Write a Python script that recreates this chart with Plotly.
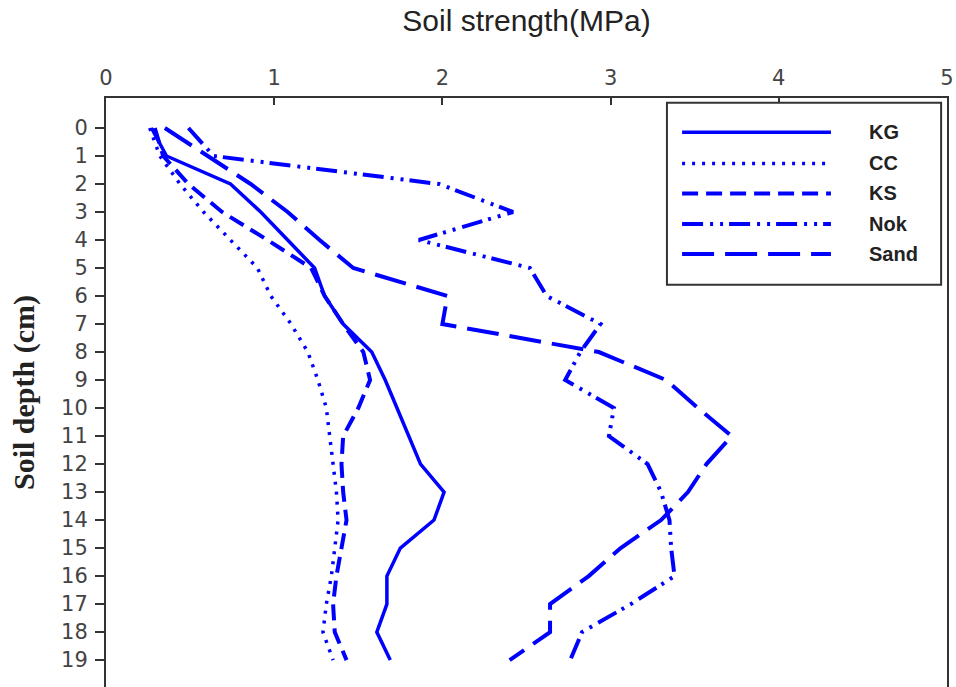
import plotly.graph_objects as go

# Penetrometer soil strength (MPa) by depth (cm) for five soils
depth = list(range(20))
kg = [0.27, 0.36, 0.74, 0.92, 1.08, 1.24, 1.30, 1.41, 1.58, 1.66,
      1.73, 1.80, 1.87, 2.01, 1.95, 1.75, 1.67, 1.67, 1.61, 1.69]
cc = [0.26, 0.32, 0.44, 0.58, 0.74, 0.90, 0.98, 1.10, 1.20, 1.26,
      1.31, 1.33, 1.35, 1.37, 1.38, 1.36, 1.34, 1.31, 1.29, 1.35]
ks = [0.29, 0.34, 0.49, 0.69, 0.96, 1.22, 1.30, 1.41, 1.53, 1.57,
      1.50, 1.41, 1.40, 1.41, 1.43, 1.40, 1.37, 1.35, 1.36, 1.43]
nok = [0.49, 0.64, 1.98, 2.42, 1.86, 2.52, 2.62, 2.94, 2.82, 2.73,
       3.02, 2.99, 3.22, 3.30, 3.35, 3.36, 3.38, 3.12, 2.83, 2.76]
sand = [0.35, 0.61, 0.86, 1.08, 1.27, 1.47, 2.03, 2.00, 2.93, 3.33,
        3.52, 3.72, 3.57, 3.46, 3.30, 3.06, 2.87, 2.64, 2.64, 2.40]

series_names = ["KG", "CC", "KS", "Nok", "Sand"]
series_values = [kg, cc, ks, nok, sand]

x_ticks = [0, 1, 2, 3, 4, 5]
y_ticks = depth

BLUE = "#0000FF"
AXIS = "#333333"
styles = {
    "KG": dict(width=3.5, dash="solid"),
    "CC": dict(width=3.5, dash="3px,7px"),
    "KS": dict(width=4, dash="16px,8px"),
    "Nok": dict(width=4, dash="21px,7px,3px,7px,3px,6px"),
    "Sand": dict(width=4, dash="32px,11px"),
}

fig = go.Figure()
for name, vals in zip(series_names, series_values):
    fig.add_trace(go.Scatter(
        x=vals, y=depth, mode="lines", name=name,
        line=dict(color=BLUE, width=styles[name]["width"], dash=styles[name]["dash"]),
        showlegend=False,
    ))

# Boxed key in the upper-right corner, drawn in paper coordinates
shapes = [dict(type="rect", xref="paper", yref="paper",
               x0=0.667, x1=0.993, y0=0.683, y1=0.992,
               line=dict(color=AXIS, width=2), fillcolor="white", layer="above")]
annotations = []
row_y = [0.942, 0.889, 0.838, 0.786, 0.735]
for name, yy in zip(series_names, row_y):
    st = styles[name]
    shapes.append(dict(type="line", xref="paper", yref="paper",
                       x0=0.685, x1=0.862, y0=yy, y1=yy, layer="above",
                       line=dict(color=BLUE, width=st["width"], dash=st["dash"])))
    annotations.append(dict(xref="paper", yref="paper", x=0.905, y=yy,
                            text="<b>%s</b>" % name, showarrow=False,
                            xanchor="left", yanchor="middle",
                            font=dict(family="Liberation Sans, Arial", size=20, color="#222222")))

fig.update_layout(
    width=956, height=687,
    margin=dict(l=106, r=9, t=98, b=0),
    paper_bgcolor="white", plot_bgcolor="white",
    shapes=shapes, annotations=annotations,
    font=dict(family="Liberation Sans, Arial", color="#333333"),
)

fig.update_xaxes(
    side="top", range=[0, 5], tickvals=x_ticks, ticktext=[str(t) for t in x_ticks],
    ticks="inside", ticklen=7, tickwidth=2, tickcolor=AXIS,
    showline=True, linecolor=AXIS, linewidth=2, mirror=False,
    showgrid=False, zeroline=False, ticklabelstandoff=3,
    tickfont=dict(family="DejaVu Sans", size=21, color="#444444"),
    title=dict(text="Soil strength(MPa)", standoff=25,
               font=dict(family="Liberation Sans, Arial", size=30, color="#222222")),
)
fig.update_yaxes(
    range=[19.96, -1.07], tickvals=y_ticks, ticktext=[str(t) for t in y_ticks],
    ticks="outside", ticklen=9, tickwidth=2, tickcolor=AXIS,
    showline=True, linecolor=AXIS, linewidth=2, mirror=True,
    showgrid=False, zeroline=False, ticklabelstandoff=3,
    tickfont=dict(family="DejaVu Sans", size=21, color="#444444"),
    title=dict(text="<b>Soil depth (cm)</b>", standoff=18,
               font=dict(family="Liberation Serif, Times New Roman", size=30, color="#222222")),
)

fig.write_html("out.html")
